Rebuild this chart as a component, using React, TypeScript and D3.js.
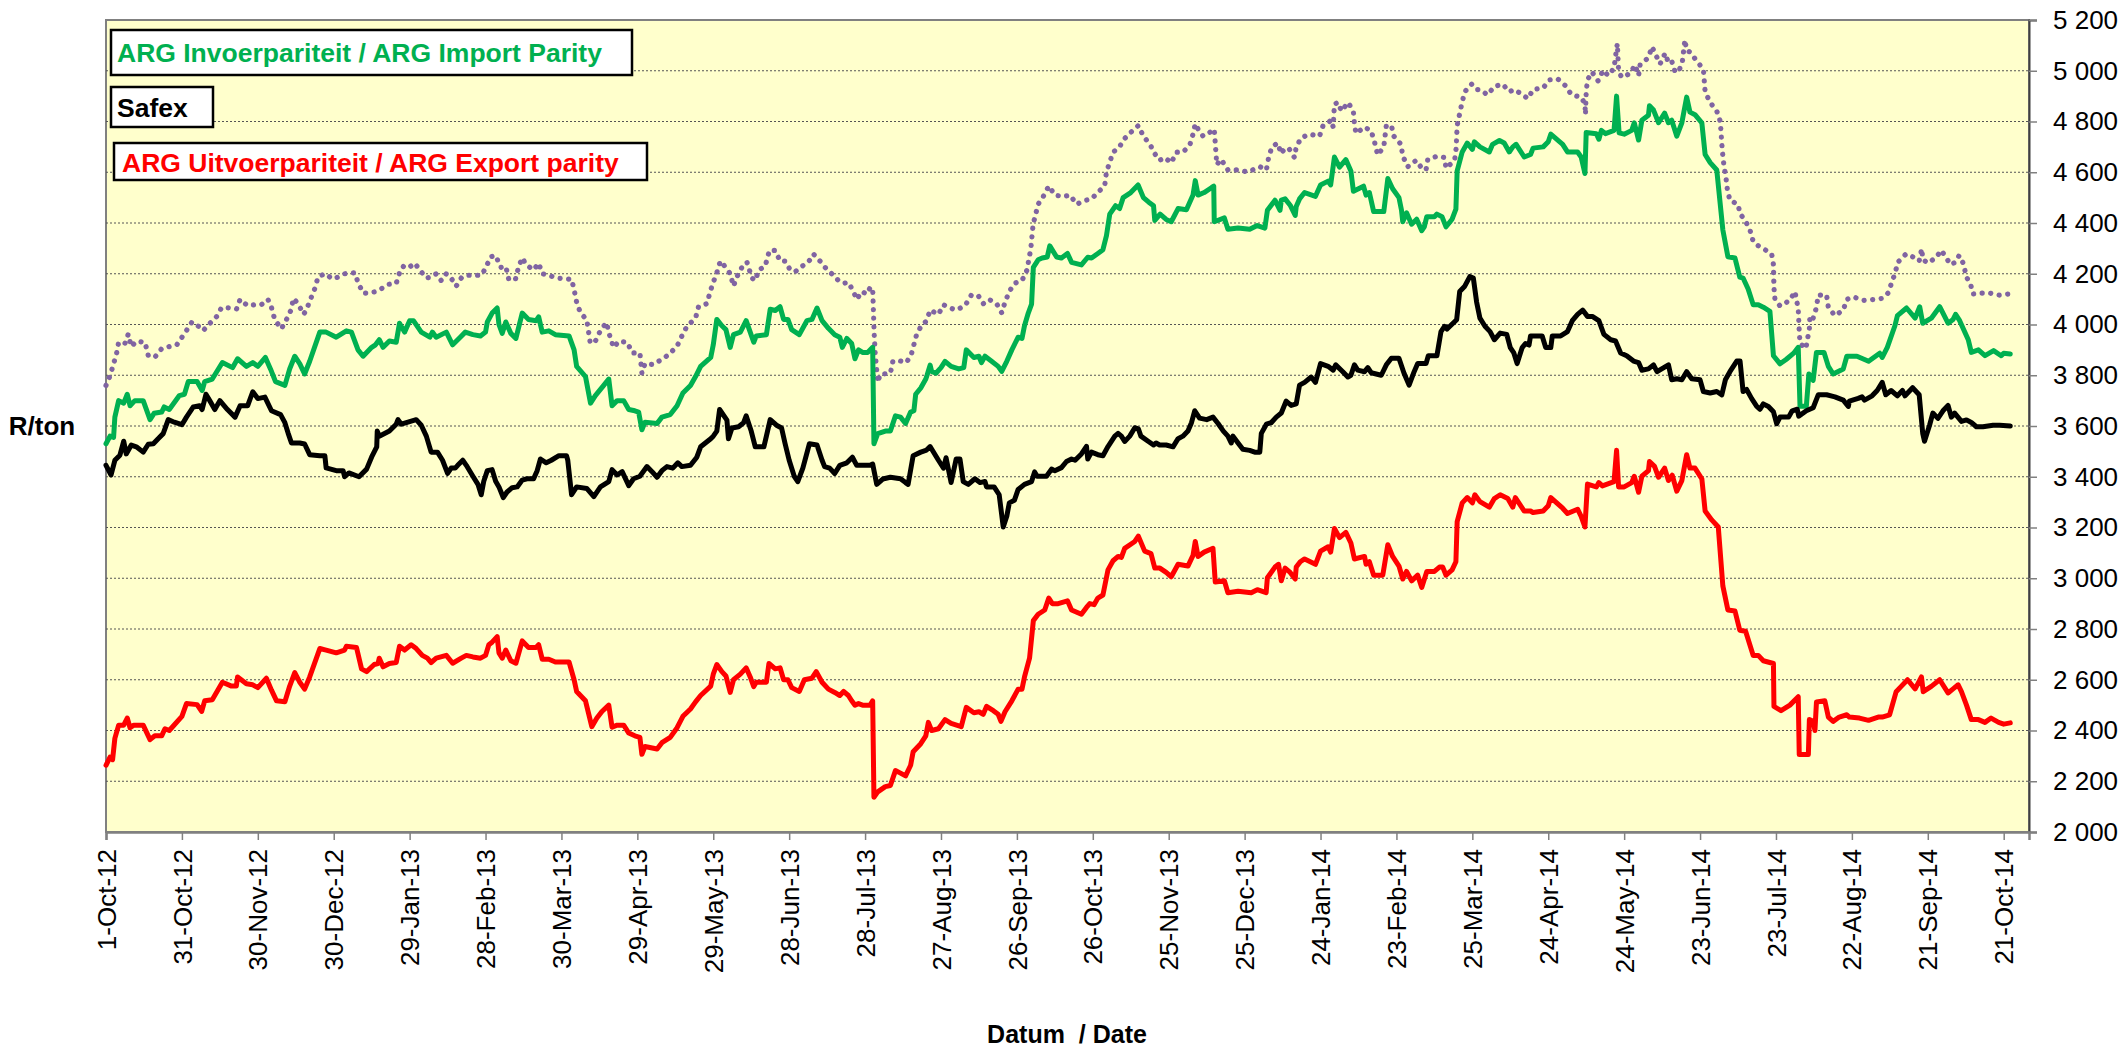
import React, { useEffect, useRef } from 'react';
import * as d3 from 'd3';

const WIDTH = 2122;
const HEIGHT = 1048;
// plot area edges (px)
const PLOT = { left: 106, right: 2029, top: 20, bottom: 832 };
const FONT = "'Liberation Sans', Arial, sans-serif";

const startDate = '1-Oct-12';
const endDate = '31-Oct-14';

const xTickLabels = [
  '1-Oct-12', '31-Oct-12', '30-Nov-12', '30-Dec-12', '29-Jan-13', '28-Feb-13',
  '30-Mar-13', '29-Apr-13', '29-May-13', '28-Jun-13', '28-Jul-13', '27-Aug-13',
  '26-Sep-13', '26-Oct-13', '25-Nov-13', '25-Dec-13', '24-Jan-14', '23-Feb-14',
  '25-Mar-14', '24-Apr-14', '24-May-14', '23-Jun-14', '23-Jul-14', '22-Aug-14',
  '21-Sep-14', '21-Oct-14',
];

const yTicks = [2000, 2200, 2400, 2600, 2800, 3000, 3200, 3400, 3600, 3800, 4000, 4200, 4400, 4600, 4800, 5000, 5200];

const legendItems = [
  { label: 'ARG Invoerpariteit / ARG Import Parity', color: '#00B050' },
  { label: 'Safex', color: '#000000' },
  { label: 'ARG Uitvoerpariteit / ARG Export parity', color: '#FF0000' },
];

// [days since 1-Oct-12, R/ton]
const importParity: [number, number][] = [
  [0,3530],[1.6,3560],[3,3555],[3.5,3635],[5,3700],[7,3690],[8.4,3725],[9.5,3680],[11.4,3700],[14.7,3700],
  [17.4,3625],[19,3650],[22,3655],[23,3675],[25,3665],[29,3720],[31,3725],[32.5,3775],[36,3775],[38,3740],
  [39,3775],[42,3785],[46,3850],[50,3830],[52,3865],[55.5,3835],[58,3850],[60,3835],[63,3870],[65,3825],
  [67,3775],[70.7,3760],[72.6,3825],[74.6,3875],[76.6,3845],[78.5,3805],[80.5,3855],[84.5,3970],[87,3970],
  [91,3950],[95,3975],[97,3970],[99.6,3900],[101.6,3875],[105,3910],[106.5,3920],[108,3940],[109.5,3910],
  [112,3935],[114.7,3930],[116,4005],[118,3970],[120,4015],[121.5,4015],[124.6,3970],[128,3950],[129,3970],
  [130.5,3950],[134.5,3970],[137,3920],[140,3950],[142,3970],[145,3960],[148,3955],[150,3970],[150.7,4010],
  [152.6,4045],[154.6,4065],[155.3,4000],[156.6,3965],[158,4010],[160,3965],[162,3945],[164.5,4045],[167,4020],
  [170,4015],[171,4030],[172.4,3970],[175,3975],[177.6,3960],[183,3955],[185,3900],[186,3835],[189.5,3795],
  [191.5,3690],[193.4,3720],[196.7,3760],[198.7,3785],[200,3680],[202,3700],[204.6,3700],[206.6,3665],[209,3660],
  [210.5,3655],[211.8,3585],[213,3615],[217.8,3610],[219.7,3635],[223,3645],[225.7,3680],[228,3730],[231,3760],
  [233,3795],[235,3835],[239,3870],[240,3920],[241.4,4020],[243.4,3995],[245,3980],[246.7,3910],[248,3960],
  [250.7,3970],[253,4015],[254.6,3970],[256,3930],[257,3955],[261,3960],[262.5,4060],[264.5,4055],[266.4,4070],
  [267.8,4020],[269.5,4020],[271,3980],[274,3960],[277,4015],[279,4020],[281,4065],[283,4015],[285.5,3985],
  [288,3960],[290,3950],[291,3910],[292.8,3945],[294.7,3925],[296,3865],[297.4,3900],[299,3890],[301,3890],
  [303,3910],[303.5,3530],[305,3570],[308,3580],[310,3580],[312,3640],[314,3635],[316,3610],[318,3655],
  [319.3,3660],[320,3725],[322,3750],[324,3785],[324.5,3800],[325.7,3840],[326.3,3815],[328,3808],[330,3830],
  [331.6,3855],[334,3835],[337,3825],[339,3830],[340,3900],[343,3870],[345,3875],[346,3850],[347.4,3875],
  [350,3855],[352.6,3835],[354,3815],[356,3855],[358,3900],[360.5,3950],[362,3945],[363,3995],[364.5,4045],
  [365.8,4080],[366.5,4225],[368.4,4255],[370,4262],[372,4266],[373,4310],[375.7,4266],[377.6,4262],[380,4280],
  [381.6,4245],[385.5,4235],[388,4265],[389.5,4262],[392,4280],[394,4295],[395.4,4350],[396.7,4435],[399,4468],
  [400.6,4457],[402,4500],[405,4520],[407.9,4550],[410,4500],[412,4483],[414,4468],[414.5,4410],[416.6,4435],
  [419,4414],[421,4405],[423.7,4457],[427,4452],[429.6,4510],[430.5,4567],[431.6,4510],[434,4520],[437,4540],
  [437.8,4545],[438,4405],[442,4420],[443.4,4375],[447.4,4380],[452,4375],[455,4390],[458,4380],[459,4450],
  [462,4490],[464,4450],[464.5,4490],[466,4495],[468,4470],[470,4430],[470.4,4465],[471.7,4495],[473.7,4520],
  [478,4505],[480,4550],[483,4565],[484,4550],[485.5,4660],[487.5,4620],[490,4650],[492,4605],[493,4525],
  [497,4545],[498,4510],[499.3,4520],[501,4445],[505,4445],[506.6,4575],[508.5,4535],[511,4500],[512,4450],
  [512.5,4405],[514,4440],[516,4395],[518,4415],[520,4370],[521,4385],[522,4425],[525,4425],[526,4435],
  [528,4425],[529.6,4385],[532,4415],[533.5,4455],[534,4605],[536,4680],[538,4715],[540,4690],[540.8,4720],
  [543,4700],[546.7,4680],[548,4710],[550.7,4725],[552.6,4715],[554.6,4680],[556,4700],[557.3,4710],[560.5,4660],
  [563,4670],[564,4695],[568,4700],[570,4720],[571,4750],[575.7,4710],[577.6,4680],[581.6,4680],[583,4660],
  [584.5,4595],[585,4757],[589,4752],[590,4730],[591,4765],[592.6,4752],[596,4765],[597,4900],[598,4755],
  [600,4750],[603,4765],[604,4795],[605.7,4727],[607,4805],[609.6,4825],[610,4862],[611.6,4845],[613.6,4795],
  [616,4833],[617.5,4795],[618.8,4805],[620.8,4742],[622.8,4795],[624.7,4896],[626,4837],[628,4827],[630.7,4795],
  [632,4670],[634,4638],[636.6,4609],[639,4373],[641,4267],[643.8,4262],[645.7,4187],[647,4183],[649,4140],
  [651,4078],[653,4078],[655,4068],[657.6,4052],[659,3877],[661.6,3845],[664,3862],[667,3887],[668.8,3910],
  [669.5,3678],[672,3678],[673,3805],[674.7,3780],[676,3890],[679,3890],[680.7,3835],[682.6,3805],[686.6,3825],
  [688,3875],[692,3875],[696.6,3855],[701,3887],[702,3870],[704,3910],[707,3995],[708,4035],[711.6,4065],
  [715,4025],[716.8,4070],[718,4005],[721.4,4025],[724.7,4070],[728,4005],[730,4020],[731,4040],[732.6,4015],
  [736,3940],[737.2,3890],[740,3900],[742.6,3877],[746,3897],[749,3877],[750,3887],[752.6,3884],
];

const safex: [number, number][] = [
  [0,3445],[2,3407],[3.5,3465],[5.5,3485],[7,3540],[8,3490],[10,3525],[12,3518],[14.7,3497],[16.7,3528],
  [18.7,3530],[20.6,3550],[22.6,3570],[24.6,3625],[27,3615],[30,3605],[31.8,3635],[34.5,3675],[37,3680],
  [38,3665],[39.5,3725],[41,3700],[43,3665],[45,3700],[48,3665],[51,3635],[53,3680],[56,3680],[58,3735],
  [60,3708],[62.8,3714],[65.4,3660],[69,3645],[70.7,3613],[72,3571],[73.3,3533],[76.6,3533],[78.5,3529],
  [80.5,3487],[84.5,3483],[86.5,3483],[87,3435],[91,3424],[93.7,3424],[94.3,3400],[96,3415],[100,3400],
  [103,3430],[105,3478],[107,3518],[107.2,3580],[108,3560],[112,3580],[114.7,3607],[115.4,3625],[116.7,3607],
  [120,3617],[122.6,3625],[124.6,3603],[126.6,3560],[128.5,3497],[131,3497],[133,3465],[135,3413],[136.4,3434],
  [138,3434],[139,3445],[141,3465],[142.4,3445],[145,3402],[147,3370],[148.3,3329],[149.3,3382],[150.7,3424],
  [152.6,3428],[154,3382],[155.3,3360],[157,3318],[158.5,3340],[160.5,3357],[162.5,3360],[164.5,3387],
  [166.4,3392],[169,3392],[170.4,3424],[171.7,3470],[174,3455],[176,3465],[179,3483],[182,3483],[182.5,3465],
  [184,3329],[186,3360],[190,3354],[192.8,3322],[195.4,3360],[198.7,3381],[200,3428],[202,3407],[204,3420],
  [206.6,3365],[208.5,3392],[211,3402],[213.8,3440],[215.8,3420],[217.8,3398],[219.7,3424],[221.7,3440],
  [224,3434],[226,3455],[227.6,3440],[231,3445],[233.5,3477],[235,3518],[239,3550],[240,3560],[241.4,3580],
  [242.5,3665],[245.4,3623],[246,3550],[247.4,3592],[250,3597],[252,3613],[253,3640],[255,3580],[256.6,3518],
  [260,3518],[261,3560],[262.5,3625],[265,3603],[267,3592],[268.4,3530],[270,3465],[272,3402],[273.4,3381],
  [275.4,3434],[278,3530],[281,3525],[283,3465],[284,3440],[286,3434],[288,3413],[290,3445],[292.8,3455],
  [295,3477],[296.7,3445],[299,3445],[302,3445],[303,3450],[304.6,3370],[307,3391],[310,3398],[314,3392],
  [316,3377],[317,3370],[319,3483],[322,3497],[324.3,3505],[325.7,3519],[329,3465],[331,3434],[332,3475],
  [334,3377],[336,3470],[337.5,3470],[338.8,3381],[340.8,3370],[343.4,3392],[345.4,3377],[347.4,3381],
  [348,3360],[351,3360],[353,3329],[354.6,3202],[356,3244],[357,3297],[359,3307],[360.5,3350],[363,3370],
  [365.8,3381],[367,3419],[368,3402],[371.7,3402],[373.7,3430],[375,3424],[377.6,3436],[379.6,3460],
  [381.6,3470],[383,3465],[385.5,3490],[387.5,3520],[388,3470],[389.5,3497],[392,3487],[394,3483],[396,3519],
  [398.7,3560],[400,3571],[401.3,3560],[402.6,3539],[404.6,3560],[406.6,3593],[408,3589],[409,3560],
  [412,3539],[414,3525],[415,3533],[416.4,3525],[419,3525],[421.7,3518],[423.7,3550],[425.6,3560],
  [427.6,3580],[429,3613],[430.3,3660],[432.2,3631],[435,3625],[437.5,3635],[439.5,3610],[441.6,3580],
  [443.4,3560],[444.7,3533],[445.4,3560],[447.4,3533],[449.3,3508],[452,3504],[454,3497],[456,3497],
  [456.6,3571],[458.6,3607],[460.5,3613],[462.5,3635],[464.5,3651],[466.4,3698],[468.4,3681],[470.4,3687],
  [471.7,3761],[473.7,3772],[476.3,3793],[478,3772],[480,3846],[483,3835],[485,3820],[486,3841],[488.8,3814],
  [490.8,3793],[492,3800],[493.4,3841],[494.7,3820],[497.4,3814],[498.7,3830],[500,3810],[504,3800],
  [506,3841],[508,3867],[511,3867],[513,3808],[515,3761],[517,3814],[518.4,3846],[521.7,3846],[522.6,3877],
  [526,3877],[527.6,3972],[529,3993],[530,3982],[533.8,4019],[535,4130],[537,4151],[539,4189],[540.4,4183],
  [541.7,4088],[543,4025],[545,3993],[547,3972],[548.7,3940],[551,3966],[553.6,3961],[555,3909],[556.4,3888],
  [557.7,3846],[559.7,3909],[561,3925],[562.4,3919],[563,3955],[567.6,3955],[569,3909],[571,3909],[571.6,3955],
  [574.9,3955],[577.6,3972],[579.5,4015],[581.6,4040],[583.6,4057],[585.5,4032],[587.4,4032],[590,4015],
  [592,3961],[594.7,3940],[596.6,3935],[598.6,3888],[601,3877],[603.7,3856],[605.7,3850],[607,3820],
  [609.6,3825],[611.6,3841],[613,3814],[615.5,3829],[617.5,3841],[618.8,3782],[620.8,3786],[622.8,3782],
  [624.7,3814],[626.7,3786],[630,3782],[631.3,3736],[634,3730],[636.6,3736],[638.6,3723],[640,3782],
  [641.8,3814],[644.5,3856],[645.8,3856],[647,3736],[648.4,3744],[650.4,3708],[652.4,3677],[653.7,3666],
  [655,3687],[657,3677],[659,3656],[660.3,3609],[661.6,3635],[665,3635],[666.4,3660],[668.4,3666],[669,3639],
  [672,3660],[674.7,3672],[676.7,3723],[680,3723],[683.3,3715],[686.6,3702],[688.6,3677],[689,3698],
  [692.5,3709],[694,3715],[695,3702],[698,3719],[700,3740],[702,3772],[703.4,3723],[705.5,3740],[708,3719],
  [710,3740],[711,3719],[714,3751],[716.6,3723],[718,3571],[718.7,3540],[720.7,3603],[722,3651],[724,3630],
  [726,3660],[728,3681],[729.3,3635],[730.6,3651],[733.3,3618],[735.3,3624],[737.2,3614],[739.2,3597],
  [741.8,3597],[745.8,3603],[748.4,3603],[752.6,3600],
];

const exportParity: [number, number][] = [
  [0,2263],[1.6,2295],[2.6,2285],[3.5,2369],[5,2421],[7,2421],[8.4,2449],[9.5,2411],[11,2421],[14.7,2421],
  [17.4,2364],[19.3,2379],[22,2379],[23.3,2407],[25,2400],[30,2456],[31.8,2506],[36,2502],[37.8,2475],
  [39,2517],[42,2521],[46,2590],[49.6,2575],[51.5,2575],[52,2611],[55.5,2584],[58,2580],[60,2569],
  [63.4,2606],[65.4,2559],[67.4,2517],[70.7,2513],[72.6,2575],[74.6,2628],[76.6,2590],[78.5,2563],
  [80.5,2611],[84.5,2723],[87,2717],[91,2706],[94.3,2717],[95,2732],[99,2727],[101,2643],[103,2632],
  [106,2660],[107.5,2664],[108,2685],[109.5,2651],[112,2664],[114.7,2668],[116,2732],[118,2717],[120.6,2738],
  [122.6,2723],[125,2696],[127,2685],[128.5,2668],[130.5,2685],[134.5,2696],[137,2665],[140.4,2685],
  [142.4,2696],[145,2690],[148,2685],[150,2696],[151.3,2738],[152.6,2748],[154.6,2770],[155.3,2706],
  [156.6,2685],[158,2717],[160,2675],[162,2665],[164.5,2753],[167,2727],[170,2727],[171,2738],[172.4,2681],
  [175,2681],[177.6,2670],[183,2670],[185,2600],[186,2554],[189.5,2517],[192,2415],[194,2449],[196,2475],
  [198.7,2500],[200,2413],[202,2421],[204.6,2421],[206.6,2390],[209,2379],[211,2373],[211.8,2306],[213,2337],
  [217.8,2327],[219.7,2352],[223,2373],[225.7,2411],[228,2456],[231,2485],[233,2513],[235,2538],[239,2575],
  [240,2622],[241.4,2660],[243.4,2632],[245,2615],[246.7,2550],[248,2600],[250.7,2622],[253,2647],[254.6,2611],
  [256,2573],[257,2590],[261,2590],[262,2664],[264.5,2643],[266.4,2647],[267.8,2600],[269.5,2600],[271,2569],
  [274,2554],[276,2600],[279,2606],[280.7,2632],[283,2590],[285.5,2563],[288,2550],[290,2538],[291.5,2554],
  [293.4,2538],[294.7,2517],[296,2500],[297.4,2506],[299,2500],[302,2500],[303,2517],[303.5,2137],[305,2158],
  [308,2179],[310,2183],[312,2242],[314,2232],[316,2221],[318,2263],[319,2316],[322,2348],[324,2379],
  [325,2432],[326.3,2400],[329,2407],[331.6,2443],[334,2428],[338,2415],[340,2491],[343,2470],[345,2474],
  [346.7,2464],[348,2495],[350.7,2478],[352.6,2464],[353.7,2436],[355.3,2474],[358,2517],[360.5,2563],
  [362,2563],[363,2611],[365,2685],[366.5,2833],[368.4,2858],[371,2875],[372.6,2922],[374,2900],[376.3,2900],
  [380,2911],[381.6,2875],[385.5,2858],[387.5,2885],[388.8,2900],[390.5,2896],[392,2922],[394,2934],
  [396,3033],[398,3069],[400,3086],[401.3,3082],[402.6,3118],[406.6,3145],[408,3166],[410.5,3107],[413,3097],
  [414.5,3040],[416.5,3040],[419,3023],[421,3006],[423.7,3055],[427.6,3048],[429.6,3090],[430.5,3145],
  [431.6,3086],[434,3103],[437.5,3118],[438.4,2985],[442,2990],[443.4,2943],[447.4,2949],[452.6,2943],
  [455,2955],[458.5,2943],[459,3002],[462,3044],[463.4,3055],[464.5,2990],[466,3040],[468,3023],[470,2997],
  [470.4,3044],[472,3065],[473.7,3076],[478,3055],[480,3107],[483,3124],[484,3103],[485.5,3196],[487.5,3160],
  [490,3181],[492,3139],[493.4,3076],[497.4,3086],[498,3055],[499.3,3065],[501,3012],[504.6,3012],
  [506.6,3132],[508.5,3086],[511,3048],[512.5,2997],[514,3027],[516,2990],[518.4,3012],[520,2964],[522,3027],
  [525,3027],[527,3044],[528.3,3044],[529.6,3012],[532,3033],[533.5,3065],[534,3223],[536,3297],[538,3318],
  [540,3297],[541,3329],[543,3302],[546.7,3280],[548.7,3314],[551,3329],[554,3314],[556,3280],[557,3318],
  [560.5,3265],[563,3265],[564,3259],[568,3265],[570,3286],[571,3318],[575.7,3276],[577.6,3255],[581.6,3272],
  [583,3244],[584.5,3202],[585.5,3371],[589,3360],[590,3377],[591.4,3364],[596,3381],[597,3504],[597.8,3360],
  [600,3360],[603,3377],[604,3402],[605.7,3339],[607,3402],[609.6,3424],[610,3460],[612,3441],[613.6,3398],
  [616,3434],[617.5,3385],[619,3406],[620.8,3343],[622.8,3385],[624.7,3487],[626,3434],[628,3434],
  [630.7,3392],[632,3265],[634.6,3230],[637.2,3202],[639,2970],[641,2875],[643.8,2871],[645.7,2795],
  [648,2791],[651,2696],[653,2696],[655,2675],[659,2664],[659.2,2495],[662,2478],[665.5,2500],[668.8,2533],
  [669.2,2305],[672.8,2305],[673.2,2443],[674.7,2436],[675.4,2400],[676,2512],[679.3,2517],[680.7,2453],
  [682.6,2436],[685,2453],[688,2462],[689,2453],[693,2449],[696.6,2440],[700.4,2453],[702,2453],[704.9,2462],
  [707.5,2553],[709.5,2574],[712,2600],[715,2564],[717.5,2611],[718.2,2553],[721.4,2574],[724.7,2600],
  [728,2548],[730,2564],[732,2580],[733.3,2553],[735.3,2500],[737.2,2443],[740,2443],[742.6,2432],[745,2449],
  [748,2432],[750,2425],[752.6,2430],
];

// unlabelled purple dotted series
const dottedSeries: [number, number][] = [
  [0,3760],[1.6,3798],[3,3845],[4.2,3887],[5,3930],[7.5,3926],[8.8,3962],[10,3913],[12,3934],[15.4,3930],
  [16.7,3878],[19.3,3871],[22,3905],[25,3913],[28,3920],[31.8,3976],[34,4010],[37,3990],[38.4,3976],
  [41,4004],[43.7,4031],[45.7,4067],[49,4065],[51.6,4061],[53,4099],[56,4074],[58.8,4078],[61.4,4078],
  [64,4099],[65.4,4067],[66.7,4019],[69.3,3983],[71.3,4019],[73.3,4061],[74,4103],[76,4082],[78,4040],
  [79,4053],[80.8,4099],[82.5,4141],[83.8,4187],[86.4,4200],[89.7,4179],[91.7,4187],[94.3,4200],[98.3,4204],
  [99.6,4166],[101.6,4124],[104,4124],[106.8,4130],[109.5,4145],[111.4,4158],[114.7,4162],[116,4204],
  [117.4,4229],[119.3,4221],[122,4242],[124,4215],[126.6,4183],[128.5,4187],[130.5,4200],[132.5,4173],
  [134.5,4200],[136.4,4183],[138.4,4151],[140.4,4183],[142.4,4194],[145.7,4194],[148.3,4194],[150,4221],
  [152,4267],[154,4272],[156,4225],[158,4229],[159.2,4177],[161.8,4177],[163,4225],[164.5,4263],[166,4236],
  [169,4215],[171,4242],[172.4,4200],[175,4194],[178,4183],[182.6,4179],[184,4179],[185,4137],[186,4088],
  [187.5,4046],[190,4019],[191.4,3926],[193.4,3934],[195.4,3976],[197.8,4008],[199.3,3947],[200.7,3909],
  [202.6,3934],[206,3930],[208,3888],[211,3888],[211.8,3808],[213,3846],[216.4,3842],[219,3859],[222.4,3881],
  [225.7,3915],[227.6,3955],[229.6,3993],[233,4025],[234.2,4071],[237.5,4082],[238.8,4130],[240,4166],
  [241.4,4204],[242.8,4250],[244.6,4229],[246.7,4200],[248,4151],[249.3,4187],[251.3,4225],[253.3,4246],
  [255.3,4183],[256.6,4173],[258,4215],[260.5,4229],[262.2,4292],[264.5,4292],[266.4,4250],[268.4,4250],
  [270.4,4215],[272.4,4208],[275,4229],[277.6,4246],[279.6,4278],[282.2,4250],[284.2,4225],[286.8,4200],
  [289.5,4173],[291.4,4162],[293.4,4166],[295.4,4130],[296.7,4099],[298.7,4130],[300.6,4120],[302,4145],
  [303,4145],[303.6,3962],[304,3887],[305,3772],[306,3804],[310,3808],[311,3856],[314,3856],[316.4,3850],
  [318.4,3887],[320.4,3962],[322.4,3998],[324.3,4014],[325.7,4057],[329,4040],[331,4078],[333,4067],
  [336,4057],[339.5,4074],[342,4116],[344.7,4114],[346.7,4082],[349,4099],[352,4082],[354,4046],[355.3,4088],
  [357,4130],[359,4162],[362,4173],[364,4215],[365.5,4299],[366.4,4394],[368.4,4474],[370.4,4504],
  [372.6,4546],[375,4510],[378.3,4504],[381,4510],[383.6,4474],[387,4489],[389.5,4495],[392,4521],
  [394.7,4546],[395.4,4601],[398,4679],[400.6,4700],[402,4727],[405,4757],[408,4784],[410,4742],[412.6,4710],
  [414.5,4673],[416.4,4647],[418.4,4658],[421,4637],[423,4679],[425.6,4679],[428.3,4706],[429.6,4750],
  [430.5,4791],[431.6,4770],[433.6,4742],[436.2,4757],[438,4770],[439,4630],[440.7,4651],[443.4,4609],
  [447.4,4609],[451.3,4601],[456,4622],[458.6,4609],[459.5,4658],[460.8,4700],[463,4715],[464.5,4673],
  [465.8,4694],[467.5,4694],[469.7,4658],[470.4,4700],[472.4,4736],[475.7,4750],[479.6,4742],[481,4784],
  [483,4795],[484.2,4806],[485,4778],[485.5,4869],[487,4875],[488.2,4841],[491,4875],[493,4837],[493.4,4791],
  [494,4753],[497.4,4778],[500,4763],[501.3,4721],[502.6,4668],[505,4700],[506,4784],[508,4784],[509,4742],
  [511.8,4710],[512.5,4664],[514.5,4622],[517.8,4647],[520,4616],[521.7,4609],[522.4,4651],[526.3,4664],
  [529,4658],[529.6,4616],[533,4647],[533.6,4694],[534,4784],[535.8,4869],[537,4917],[539.7,4947],
  [541.5,4926],[543,4926],[546,4905],[548.7,4938],[552,4947],[554.6,4917],[556.6,4926],[559,4911],[562,4890],
  [564,4926],[568,4932],[570.4,4964],[573.7,4968],[576.6,4943],[579.2,4905],[583,4896],[584.5,4869],
  [584.7,4827],[585,4917],[585.5,4964],[587.3,4995],[589.7,4960],[591.7,5002],[593.7,4981],[596,5010],
  [596.6,5058],[597.3,5107],[597.8,5000],[599,4974],[602.4,4989],[604.3,5023],[605.7,4981],[606.3,5023],
  [609.6,5052],[611,5095],[613,5052],[614.2,5027],[616.2,5069],[617.5,5031],[618.8,5038],[620,5000],
  [621.4,4993],[623,5035],[624,5122],[624.7,5080],[626,5074],[628.7,5038],[631.3,5006],[632,4917],[634,4875],
  [636.6,4841],[638,4800],[638.6,4711],[639,4664],[639.5,4622],[640.3,4574],[640.8,4531],[641.8,4489],
  [645,4474],[645.8,4436],[647.8,4411],[649.7,4373],[651,4327],[653,4310],[655,4299],[658.3,4278],[659,4236],
  [659.2,4145],[659.6,4099],[661.6,4073],[665.5,4095],[667.5,4130],[668.8,4061],[669.2,3972],[669.5,3926],
  [671.8,3905],[673.2,3983],[673.4,4036],[674.7,4025],[676,4067],[676.7,4116],[680,4116],[680.7,4067],
  [683.3,4035],[686.6,4057],[688,4099],[690.5,4109],[694.5,4095],[699,4099],[702,4103],[704.3,4124],
  [705.5,4158],[707,4200],[708.2,4246],[711.4,4278],[714.7,4264],[716.6,4250],[717.6,4299],[718,4257],
  [720,4242],[723.3,4264],[725.3,4293],[727.2,4264],[729,4236],[731,4246],[732.4,4272],[734.3,4236],
  [735,4194],[737.1,4151],[737.8,4120],[741,4124],[744.3,4124],[748.2,4116],[751.6,4120],
];

export default function App() {
  const ref = useRef<SVGSVGElement>(null);

  useEffect(() => {
    const svg = d3.select(ref.current);
    svg.selectAll('*').remove();

    const parse = d3.timeParse('%d-%b-%y');
    const start = parse(startDate) as Date;
    const toDate = (d: number) => new Date(start.getTime() + d * 86400000);

    const x = d3.scaleTime()
      .domain([start, parse(endDate) as Date])
      .range([PLOT.left, PLOT.right]);
    const y = d3.scaleLinear()
      .domain([2000, 5200])
      .range([PLOT.bottom, PLOT.top]);

    const spaced = d3.formatLocale({ decimal: '.', thousands: ' ', grouping: [3], currency: ['', ''] }).format(',');

    // plot background
    svg.append('rect')
      .attr('x', PLOT.left)
      .attr('y', PLOT.top)
      .attr('width', PLOT.right - PLOT.left)
      .attr('height', PLOT.bottom - PLOT.top)
      .attr('fill', '#FFFFCC')
      .attr('stroke', '#808080')
      .attr('stroke-width', 2);

    // horizontal gridlines
    svg.append('g')
      .selectAll('line')
      .data(yTicks.filter(v => v > 2000 && v < 5200))
      .enter().append('line')
      .attr('x1', PLOT.left)
      .attr('x2', PLOT.right)
      .attr('y1', d => y(d))
      .attr('y2', d => y(d))
      .attr('stroke', '#555')
      .attr('stroke-width', 1)
      .attr('stroke-dasharray', '2,2');

    // right value axis
    const yAxis = svg.append('g')
      .attr('transform', `translate(${PLOT.right},0)`)
      .call(d3.axisRight(y).tickValues(yTicks).tickSize(8).tickPadding(16).tickFormat(d => spaced(d as number)));
    yAxis.select('.domain').attr('stroke', '#404040').attr('stroke-width', 2);
    yAxis.selectAll('.tick line').attr('stroke', '#808080').attr('stroke-width', 1.5);
    yAxis.selectAll('text')
      .attr('fill', '#000')
      .style('font-family', FONT)
      .style('font-size', '26px');

    // bottom date axis
    const xAxis = svg.append('g')
      .attr('transform', `translate(0,${PLOT.bottom})`)
      .call(d3.axisBottom(x).tickValues(xTickLabels.map(s => parse(s) as Date)).tickSize(8).tickFormat((d, i) => xTickLabels[i]));
    xAxis.select('.domain').attr('stroke', '#808080').attr('stroke-width', 2.5);
    xAxis.selectAll('.tick line').attr('stroke', '#808080').attr('stroke-width', 1.5);
    xAxis.selectAll('text')
      .attr('transform', 'rotate(-90)')
      .attr('x', -17)
      .attr('y', 0)
      .attr('dy', '0.35em')
      .attr('text-anchor', 'end')
      .attr('fill', '#000')
      .style('font-family', FONT)
      .style('font-size', '26px');

    // series lines
    const line = d3.line<[number, number]>()
      .x(d => x(toDate(d[0])))
      .y(d => y(d[1]));

    svg.append('path')
      .datum(dottedSeries)
      .attr('d', line)
      .attr('fill', 'none')
      .attr('stroke', '#8064A2')
      .attr('stroke-width', 5.2)
      .attr('stroke-linecap', 'round')
      .attr('stroke-dasharray', '0.1,8.5');

    const solid = [
      { data: importParity, color: '#00B050' },
      { data: safex, color: '#000000' },
      { data: exportParity, color: '#FF0000' },
    ];
    solid.forEach(s => {
      svg.append('path')
        .datum(s.data)
        .attr('d', line)
        .attr('fill', 'none')
        .attr('stroke', s.color)
        .attr('stroke-width', 5)
        .attr('stroke-linejoin', 'round')
        .attr('stroke-linecap', 'round');
    });

    // legend text boxes
    const boxes = [
      { x: 111, y: 30, w: 521, h: 45, tx: 117, ty: 62 },
      { x: 111, y: 87, w: 102, h: 40, tx: 117, ty: 117 },
      { x: 114, y: 143, w: 533, h: 37, tx: 122, ty: 172 },
    ];
    legendItems.forEach((item, i) => {
      const b = boxes[i];
      svg.append('rect')
        .attr('x', b.x).attr('y', b.y)
        .attr('width', b.w).attr('height', b.h)
        .attr('fill', '#fff')
        .attr('stroke', '#000')
        .attr('stroke-width', 2.5);
      svg.append('text')
        .attr('x', b.tx).attr('y', b.ty)
        .attr('fill', item.color)
        .style('font-family', FONT)
        .style('font-size', '26.5px')
        .style('font-weight', 'bold')
        .text(item.label);
    });

    // axis titles
    svg.append('text')
      .attr('x', 42)
      .attr('y', (PLOT.top + PLOT.bottom) / 2 + 9)
      .attr('text-anchor', 'middle')
      .style('font-family', FONT)
      .style('font-size', '26px')
      .style('font-weight', 'bold')
      .text('R/ton');

    svg.append('text')
      .attr('x', 1067)
      .attr('y', 1043)
      .attr('text-anchor', 'middle')
      .style('font-family', FONT)
      .style('font-size', '25px')
      .style('font-weight', 'bold')
      .style('white-space', 'pre')
      .text('Datum  / Date');
  }, []);

  return (
    <svg
      ref={ref}
      width={WIDTH}
      height={HEIGHT}
      style={{ position: 'absolute', left: 0, top: 0, background: '#fff' }}
    />
  );
}
